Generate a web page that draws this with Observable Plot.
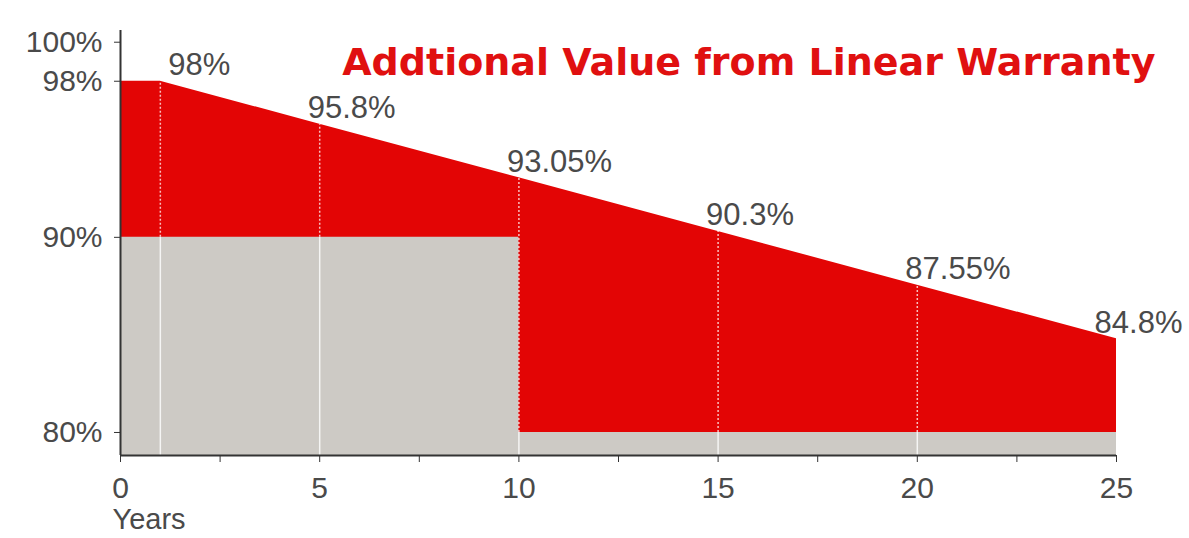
<!DOCTYPE html>
<html>
<head>
<meta charset="utf-8">
<script src="https://cdn.jsdelivr.net/npm/d3@7"></script>
<script src="https://cdn.jsdelivr.net/npm/@observablehq/plot@0.6"></script>
<style>
  html, body { margin: 0; padding: 0; background: #fff; }
  #chart { width: 1189px; height: 538px; overflow: hidden; }
</style>
</head>
<body>
<div id="chart"></div>
<script>
// ---- data ----
const years = [0, 1, 5, 10, 15, 20, 25];
const warranty = [98, 98, 95.8, 93.05, 90.3, 87.55, 84.8];
const labelYears = [1, 5, 10, 15, 20, 25];
const stepYears = [0, 10, 10, 25];
const stepLevels = [90, 90, 80, 80];
const ruleYears = [1, 5, 10, 15, 20];
const yTicks = [80, 90, 98, 100];
const xTicks = [0, 2.5, 5, 7.5, 10, 12.5, 15, 17.5, 20, 22.5, 25];
const xLabels = [0, 5, 10, 15, 20, 25];
const title = "Addtional Value from Linear Warranty";
const xTitle = "Years";

const yMin = 78.82, yMax = 100.6;

const lineData = years.map((x, i) => ({x, y: warranty[i]}));
const stepData = stepYears.map((x, i) => ({x, y: stepLevels[i]}));
const valueAt = t => warranty[years.indexOf(t)];
const greyAt = t => (t < stepYears[2] ? stepLevels[0] : stepLevels[3]);
const labelData = labelYears.map(t => ({x: t, y: valueAt(t), text: valueAt(t) + "%"}));
const ruleData = ruleYears.map(t => ({x: t, grey: greyAt(t), top: valueAt(t)}));
const firstLabel = labelData.slice(0, 1);
const midLabels = labelData.slice(1, -1);
const lastLabel = labelData.slice(-1);

const RED = "#e30505";
const GREY = "#cdcac5";
const TEXT = "#4a4a4a";
const AXIS = "#333";

const labelOpts = {x: "x", y: "y", text: "text", lineAnchor: "bottom", dy: -6, fill: TEXT, fontSize: 31};

const chart = Plot.plot({
  width: 1189,
  height: 538,
  marginTop: 30,
  marginBottom: 83,
  marginLeft: 120,
  marginRight: 73,
  x: {domain: [0, 25]},
  y: {domain: [yMin, yMax]},
  style: {fontFamily: "'Liberation Sans', Arial, sans-serif", fontSize: "30px", color: TEXT, background: "#fff"},
  marks: [
    Plot.areaY(lineData, {x: "x", y1: yMin, y2: "y", fill: RED}),
    Plot.areaY(stepData, {x: "x", y1: yMin, y2: "y", fill: GREY}),
    Plot.ruleX(ruleData, {x: "x", y1: yMin, y2: "grey", stroke: "#fff", strokeWidth: 1.5, strokeOpacity: 0.8}),
    Plot.ruleX(ruleData, {x: "x", y1: "grey", y2: "top", stroke: "#fff", strokeWidth: 1.5, strokeOpacity: 0.75, strokeDasharray: "2,2"}),
    Plot.ruleX([0], {stroke: AXIS, strokeWidth: 2}),
    Plot.ruleY([yMin], {stroke: AXIS, strokeWidth: 2}),
    Plot.axisY(yTicks, {tickFormat: d => d + "%", tickSize: 6, tickPadding: 12, stroke: AXIS, fill: TEXT, fontSize: 30, label: null}),
    Plot.axisX(xTicks, {tickFormat: d => (xLabels.includes(d) ? String(d) : ""), tickSize: 7, tickPadding: 14, stroke: AXIS, fill: TEXT, fontSize: 30, label: null}),
    Plot.text([xTitle], {frameAnchor: "bottom-left", textAnchor: "start", lineAnchor: "top", dx: -8, dy: 53, fill: TEXT, fontSize: 29}),
    Plot.text(firstLabel, {...labelOpts, textAnchor: "start", dx: 8}),
    Plot.text(midLabels, {...labelOpts, textAnchor: "start", dx: -12}),
    Plot.text(lastLabel, {...labelOpts, textAnchor: "end", dx: 66}),
    Plot.text([title], {frameAnchor: "top-right", textAnchor: "end", lineAnchor: "middle", dx: 39, dy: 32, fill: "#e01010", fontSize: 38, fontWeight: "bold", fontFamily: "'DejaVu Sans', sans-serif"})
  ]
});
document.getElementById("chart").appendChild(chart);
</script>
</body>
</html>
